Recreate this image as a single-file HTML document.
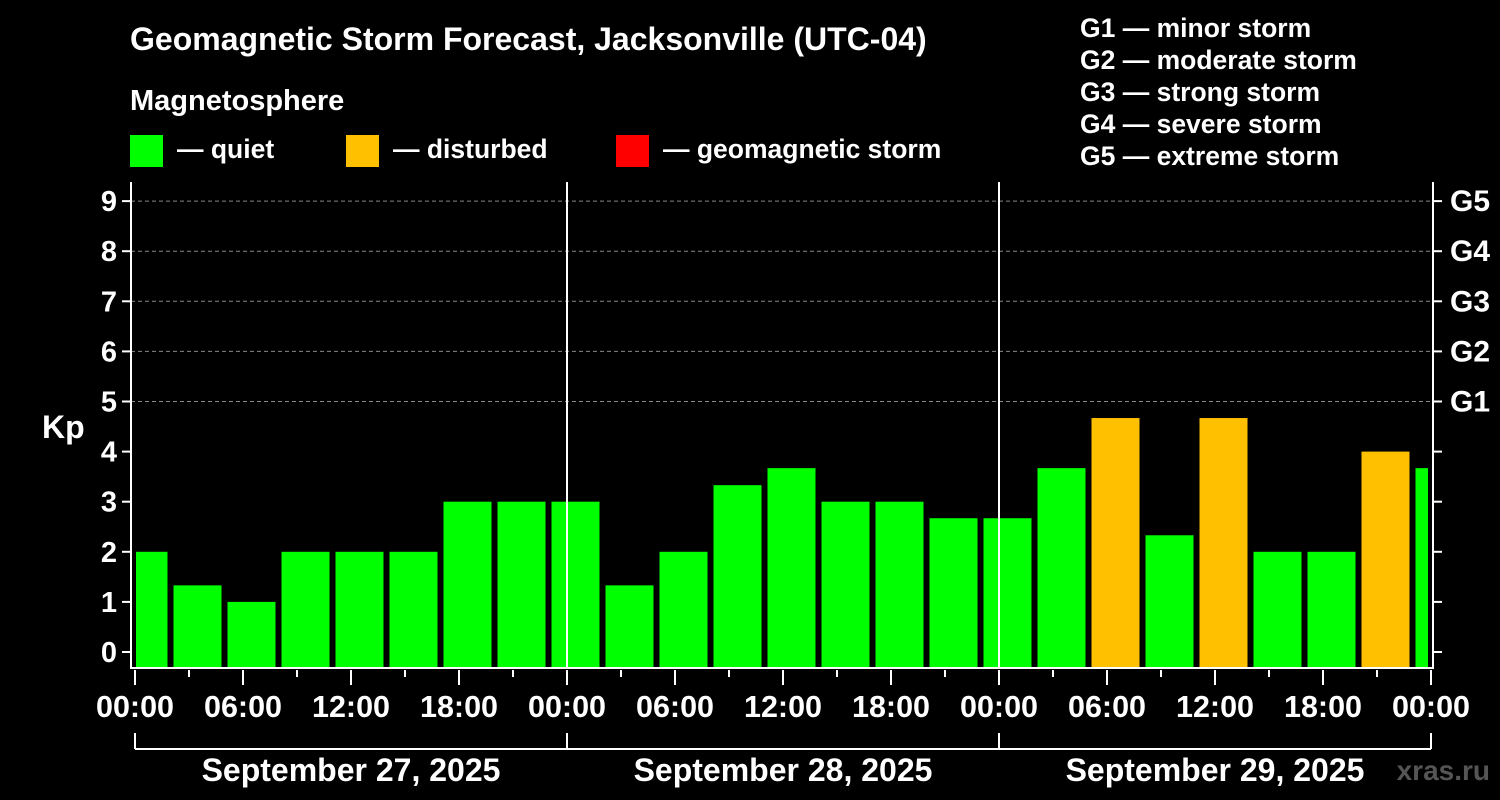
<!DOCTYPE html>
<html><head><meta charset="utf-8"><style>
html,body{margin:0;padding:0;background:#000;}
svg{display:block;font-family:"Liberation Sans",Arial,sans-serif;font-weight:bold;}
</style></head><body>
<svg id="chart" width="1500" height="800" viewBox="0 0 1500 800">
<defs><clipPath id="pc"><rect x="136" y="180" width="1292" height="488"/></clipPath></defs>
<rect x="0" y="0" width="1500" height="800" fill="#000"/>
<text x="130" y="50" fill="#fff" font-size="32">Geomagnetic Storm Forecast, Jacksonville (UTC-04)</text>
<text x="130" y="110" fill="#fff" font-size="29">Magnetosphere</text>
<g><rect x="130" y="135" width="33" height="32" fill="#00ff00"/><text x="177" y="158" fill="#fff" font-size="26.5">— quiet</text></g>
<g><rect x="346" y="135" width="33" height="32" fill="#ffc000"/><text x="393" y="158" fill="#fff" font-size="26.5">— disturbed</text></g>
<g><rect x="616" y="135" width="33" height="32" fill="#ff0000"/><text x="663" y="158" fill="#fff" font-size="26.5">— geomagnetic storm</text></g>
<g font-size="26.5" fill="#fff">
<text x="1080" y="37">G1 — minor storm</text>
<text x="1080" y="69">G2 — moderate storm</text>
<text x="1080" y="101">G3 — strong storm</text>
<text x="1080" y="133">G4 — severe storm</text>
<text x="1080" y="165">G5 — extreme storm</text>
</g>
<text x="42" y="438" fill="#fff" font-size="32">Kp</text>
<text x="1490" y="780" fill="#555" font-size="28" text-anchor="end">xras.ru</text>
<g id="grid"></g><g id="bars" clip-path="url(#pc)"></g><g id="axes"></g>
</svg>
<script>
const kpValues=[2,1.33,1,2,2,2,3,3,3,1.33,2,3.33,3.67,3,3,2.67,2.67,3.67,4.67,2.33,4.67,2,2,4,3.67];
const barColors=["q","q","q","q","q","q","q","q","q","q","q","q","q","q","q","q","q","q","d","q","d","q","q","d","q"];
const yTicks=[0,1,2,3,4,5,6,7,8,9];
const gLabels=["G1","G2","G3","G4","G5"];
const xLabels=["00:00","06:00","12:00","18:00","00:00","06:00","12:00","18:00","00:00","06:00","12:00","18:00","00:00"];
const dayLabels=["September 27, 2025","September 28, 2025","September 29, 2025"];
const NS="http://www.w3.org/2000/svg";
const X0=135,PXH=18,Y0=652,PXK=50.1,LEFT=131,RIGHT=1433,TOP=182,BOT=668;
const xs=h=>X0+h*PXH, ys=k=>Y0-k*PXK;
function mk(tag,attrs,parent,txt){const e=document.createElementNS(NS,tag);for(const k in attrs)e.setAttribute(k,attrs[k]);if(txt!==undefined)e.textContent=txt;document.getElementById(parent).appendChild(e);return e;}
const col={q:"#00ff00",d:"#ffc000",s:"#ff0000"};
kpValues.forEach((v,i)=>{
  const c=xs(i*3)+8.5;
  const r=mk("rect",{x:c-24,y:ys(v),width:48,height:BOT-ys(v),fill:col[barColors[i]]},"bars");
  
  
});
yTicks.forEach(t=>{
  const y=ys(t);
  if(t>=5){const g=mk("line",{x1:LEFT,x2:RIGHT,y1:y,y2:y,stroke:"#888","stroke-dasharray":"4,3","stroke-width":1},"grid");
  
  }
  mk("line",{x1:LEFT-9,x2:LEFT,y1:y,y2:y,stroke:"#fff","stroke-width":2},"axes");
  mk("line",{x1:RIGHT,x2:RIGHT+9,y1:y,y2:y,stroke:"#fff","stroke-width":2},"axes");
  const l=mk("text",{x:LEFT-14,y:y+10,fill:"#fff","font-size":29,"text-anchor":"end"},"axes",String(t));
  
  
});
gLabels.forEach((g,i)=>{
  const l=mk("text",{x:1450,y:ys(5+i)+10,fill:"#fff","font-size":30},"axes",g);
  
  
});
mk("path",{d:`M${LEFT} ${TOP} V${BOT} H${RIGHT} V${TOP}`,fill:"none",stroke:"#fff","stroke-width":2},"axes");
[1,2].forEach(d=>{mk("line",{x1:xs(d*24),x2:xs(d*24),y1:TOP,y2:BOT,stroke:"#fff","stroke-width":2},"axes");});
for(let h=0;h<=72;h+=3){const maj=h%6===0;mk("line",{x1:xs(h),x2:xs(h),y1:BOT+2,y2:BOT+(maj?17:9),stroke:"#fff","stroke-width":2},"axes");}
xLabels.forEach((t,i)=>{
  const l=mk("text",{x:xs(i*6),y:717,fill:"#fff","font-size":30.5,"text-anchor":"middle"},"axes",t);
  
  
});
mk("line",{x1:xs(0),x2:xs(72),y1:749,y2:749,stroke:"#fff","stroke-width":2},"axes");
for(let d=0;d<=3;d++)mk("line",{x1:xs(d*24),x2:xs(d*24),y1:733,y2:749,stroke:"#fff","stroke-width":2},"axes");
dayLabels.forEach((t,i)=>{
  const l=mk("text",{x:xs(i*24+12),y:781,fill:"#fff","font-size":32,"text-anchor":"middle"},"axes",t);
  
  
});
</script>
</body></html>
